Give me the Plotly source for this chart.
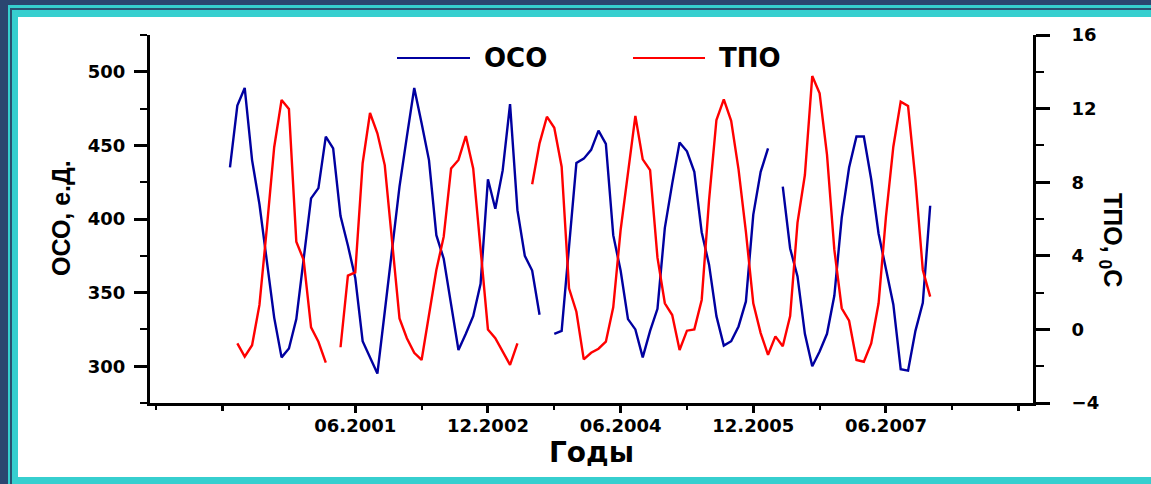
import plotly.graph_objects as go

# Monthly series, Jan 2000 .. Dec 2007 (month index 0..95)
months = list(range(96))

# Total ozone content, Dobson units (left axis)
oso = [435, 477, 489, 440, 410, 372, 333, 306, 312, 332,
       374, 414, 421, 456, 448, 402, 382, 360, 317, 306,
       295, 337, 380, 422, 456, 489, 465, 440, 389, 373,
       342, 311, 322, 334, 356, 427, 407, 433, 478, 406,
       375, 365, 335, None, 322, 324, 381, 438, 441, 447,
       460, 451, 389, 365, 332, 325, 306, 324, 339, 394,
       424, 452, 446, 432, 391, 369, 334, 314, 317, 327,
       344, 403, 432, 448, None, 422, 380, 361, 322, 300,
       310, 322, 348, 401, 435, 456, 456, 427, 390, 366,
       342, 298, 297, 324, 343, 409]

# Sea surface temperature, deg C (right axis)
tpo = [None, -0.76, -1.48, -0.86, 1.33, 5.5, 9.9, 12.47, 11.98, 4.77,
       3.77, 0.11, -0.67, -1.81, None, -0.97, 2.92, 3.10, 9.03, 11.76,
       10.66, 8.93, 4.77, 0.6, -0.48, -1.27, -1.66, 0.69, 3.23, 5.04,
       8.75, 9.21, 10.51, 8.75, 4.41, 0.0, -0.48, -1.21, -1.93, -0.76,
       None, 7.89, 10.11, 11.56, 10.96, 8.84, 2.23, 0.96, -1.63, -1.27,
       -1.05, -0.67, 1.2, 5.4, 8.48, 11.6, 9.24, 8.66, 3.9, 1.42,
       0.78, -1.12, -0.07, 0.0, 1.6, 7.03, 11.38, 12.5, 11.34, 8.7,
       5.3, 1.42, -0.2, -1.38, -0.38, -0.92, 0.72, 5.8, 8.39, 13.77,
       12.83, 9.5, 4.32, 1.15, 0.47, -1.66, -1.76, -0.76, 1.42, 6.13,
       9.93, 12.38, 12.14, 8.12, 3.23, 1.78]

# Time axis ticks (month index) and their labels
x_labeled = [17, 35, 53, 71, 89]
x_labels = ["06.2001", "12.2002", "06.2004", "12.2005", "06.2007"]
x_unlabeled = [-1, 107]
x_minor = [-10, 8, 26, 44, 62, 80, 98]
x_range = [-10.85, 108.95]

left_ticks = [300, 350, 400, 450, 500]
left_minor = [275, 325, 375, 425, 475, 525]
right_ticks = [-4, 0, 4, 8, 12, 16]
right_minor = [-2, 2, 6, 10, 14]

series_names = ["ОСО", "ТПО"]
series_colors = ["#0000a0", "#ff0000"]

W, H = 1151, 484
L, R, T, B = 150, 118, 35, 81
PW, PH = W - L - R, H - T - B


def fx(x):
    return (x - L) / PW


def fy(y):
    return (H - B - y) / PH


TICK_FONT = dict(family="DejaVu Sans", size=18, color="black", weight="bold")

fig = go.Figure()
fig.add_trace(go.Scatter(x=months, y=oso, mode="lines", name=series_names[0],
                         line=dict(color=series_colors[0], width=2.4),
                         showlegend=False))
fig.add_trace(go.Scatter(x=months, y=tpo, mode="lines", name=series_names[1],
                         line=dict(color=series_colors[1], width=2.4),
                         yaxis="y2", showlegend=False))

# framed background
shapes = []


def rect(x0, y0, x1, y1, color):
    shapes.append(dict(type="rect", xref="paper", yref="paper",
                       x0=fx(x0), x1=fx(x1), y0=fy(y1), y1=fy(y0),
                       fillcolor=color, line=dict(width=0), layer="below"))


rect(0, 0, W, H, "#2b4670")
rect(8, 5, W, H, "#36cfcf")
rect(10, 8, W, H, "#2a5170")
rect(12, 10, W, H, "#36cfcf")
rect(18, 17, W, 477, "white")

# legend samples
legend_items = [(397, 470, 482), (633, 705, 717)]
annotations = []
for (x0, x1, xt), name, color in zip(legend_items, series_names, series_colors):
    shapes.append(dict(type="line", xref="paper", yref="paper",
                       x0=fx(x0), x1=fx(x1), y0=fy(58), y1=fy(58),
                       line=dict(color=color, width=2)))
    annotations.append(dict(text=name, xref="paper", yref="paper",
                            x=fx(xt), y=fy(58), xanchor="left", yanchor="middle",
                            showarrow=False,
                            font=dict(family="DejaVu Sans", size=26,
                                      color="black", weight="bold")))

annotations += [
    dict(text="Годы", xref="paper", yref="paper", x=fx(591), y=fy(452),
         xanchor="center", yanchor="middle", showarrow=False,
         font=dict(family="DejaVu Sans", size=28, color="black", weight="bold")),
    dict(text="ОСО, е.Д.", xref="paper", yref="paper", x=fx(61), y=fy(218),
         xanchor="center", yanchor="middle", showarrow=False, textangle=-90,
         font=dict(family="Liberation Sans", size=25, color="black", weight="bold")),
    dict(text="ТПО, <sub>0</sub>C", xref="paper", yref="paper", x=fx(1111), y=fy(240),
         xanchor="center", yanchor="middle", showarrow=False, textangle=90,
         font=dict(family="Liberation Sans", size=25, color="black", weight="bold")),
]

axis_common = dict(showline=True, linecolor="black", linewidth=3, showgrid=False,
                   zeroline=False, ticks="outside", tickcolor="black",
                   tickfont=TICK_FONT)

fig.update_layout(
    width=W, height=H,
    margin=dict(l=L, r=R, t=T, b=B, pad=0),
    paper_bgcolor="#2b4670",
    plot_bgcolor="rgba(0,0,0,0)",
    shapes=shapes,
    annotations=annotations,
    xaxis=dict(range=x_range, tickmode="array", tickvals=x_labeled,
               ticktext=x_labels, ticklen=7, tickwidth=3, ticklabelstandoff=-3,
               minor=dict(tickmode="array", tickvals=x_minor, ticks="outside",
                          ticklen=4, tickwidth=2, tickcolor="black"),
               **axis_common),
    # unlabeled major ticks at the ends of the time axis
    xaxis2=dict(range=x_range, overlaying="x", side="bottom", anchor="y",
                tickmode="array", tickvals=x_unlabeled, showticklabels=False,
                ticks="outside", ticklen=7, tickwidth=3, tickcolor="black",
                showline=False, showgrid=False, zeroline=False),
    yaxis=dict(range=[275, 525], tickmode="array", tickvals=left_ticks,
               ticklen=13, tickwidth=3, ticklabelstandoff=5,
               minor=dict(tickmode="array", tickvals=left_minor, ticks="outside",
                          ticklen=7, tickwidth=2, tickcolor="black"),
               **axis_common),
    yaxis2=dict(range=[-4, 16], tickmode="array", tickvals=right_ticks,
                overlaying="y", side="right", anchor="x",
                ticklen=14, tickwidth=3, ticklabelstandoff=18,
                minor=dict(tickmode="array", tickvals=right_minor, ticks="outside",
                           ticklen=8, tickwidth=2, tickcolor="black"),
                **axis_common),
)

# invisible companion trace so the second x axis is laid out
fig.add_trace(go.Scatter(x=[x_range[0]], y=[None], xaxis="x2", yaxis="y",
                         mode="lines", showlegend=False, hoverinfo="skip"))

fig.write_html("out.html")
